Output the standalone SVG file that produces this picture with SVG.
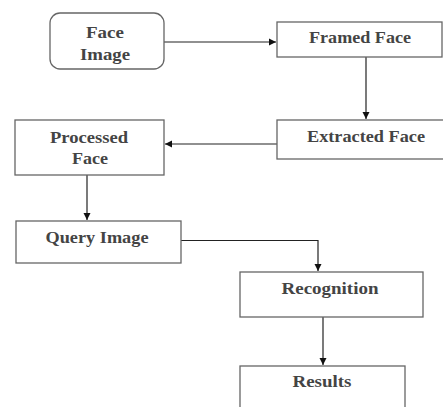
<svg xmlns="http://www.w3.org/2000/svg" width="443" height="407" viewBox="0 0 443 407">
<style>
.box{fill:#fff;stroke:#666;stroke-width:1.3}
.t{font-family:"Liberation Serif",serif;font-weight:bold;font-size:17px;fill:#444;text-anchor:middle}
.c{fill:none;stroke:#222;stroke-width:1.2}
</style>
<defs>
<marker id="ah" markerWidth="8" markerHeight="8" refX="7" refY="4" orient="auto" markerUnits="userSpaceOnUse">
<path d="M0,0.5 L7,4 L0,7.5 Z" fill="#111"/>
</marker>
</defs>
<rect width="443" height="407" fill="#fff"/>
<g id="connectors">
<line class="c" x1="164" y1="42" x2="276" y2="42" marker-end="url(#ah)"/>
<line class="c" x1="366" y1="57" x2="366" y2="119" marker-end="url(#ah)"/>
<line class="c" x1="277" y1="144" x2="165" y2="144" marker-end="url(#ah)"/>
<line class="c" x1="87" y1="168" x2="87" y2="220" marker-end="url(#ah)"/>
<polyline class="c" points="181,240.5 318,240.5 318,271" marker-end="url(#ah)"/>
<line class="c" x1="323" y1="317" x2="323" y2="365" marker-end="url(#ah)"/>
</g>
<g id="face-image">
<rect class="box" x="50" y="13" width="114" height="56" rx="10"/>
<text class="t" x="105" y="38" textLength="38" lengthAdjust="spacingAndGlyphs">Face</text>
<text class="t" x="105" y="60" textLength="50" lengthAdjust="spacingAndGlyphs">Image</text>
</g>
<g id="framed-face">
<rect class="box" x="277" y="22" width="165" height="35"/>
<text class="t" x="360" y="43" textLength="102" lengthAdjust="spacingAndGlyphs">Framed Face</text>
</g>
<g id="extracted-face">
<rect class="box" x="277" y="120" width="180" height="39"/>
<text class="t" x="366" y="142" textLength="118" lengthAdjust="spacingAndGlyphs">Extracted Face</text>
</g>
<g id="processed-face">
<rect class="box" x="15" y="120" width="149" height="55"/>
<text class="t" x="89" y="143" textLength="78" lengthAdjust="spacingAndGlyphs">Processed</text>
<text class="t" x="90" y="164" textLength="36" lengthAdjust="spacingAndGlyphs">Face</text>
</g>
<g id="query-image">
<rect class="box" x="16" y="221" width="165" height="42"/>
<text class="t" x="97" y="243" textLength="103" lengthAdjust="spacingAndGlyphs">Query Image</text>
</g>
<g id="recognition">
<rect class="box" x="240" y="272" width="183" height="45"/>
<text class="t" x="330" y="294" textLength="97" lengthAdjust="spacingAndGlyphs">Recognition</text>
</g>
<g id="results">
<rect class="box" x="240" y="366" width="165" height="45"/>
<text class="t" x="322" y="387" textLength="59" lengthAdjust="spacingAndGlyphs">Results</text>
</g>
</svg>
